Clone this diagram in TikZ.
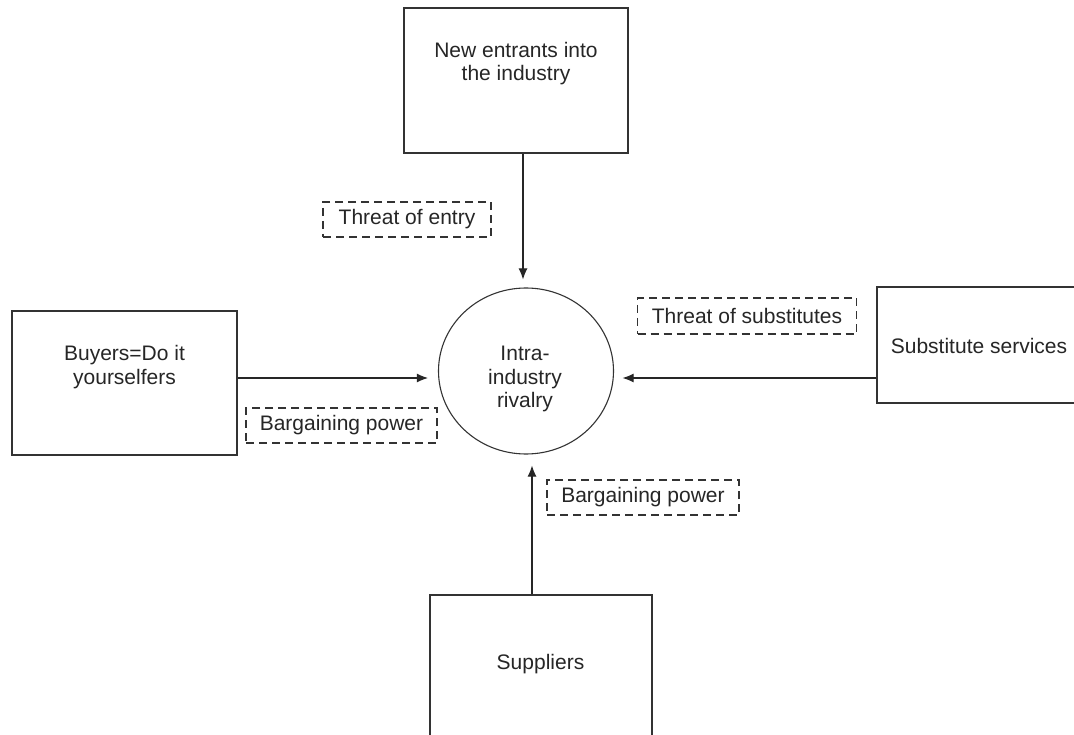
\documentclass[tikz,border=0pt]{standalone}
\usepackage{fontspec}
\setmainfont{Liberation Sans}
\usetikzlibrary{arrows.meta,shapes.geometric}
\begin{document}
\begin{tikzpicture}[x=1pt,y=-1pt,
  txt/.style={font=\fontsize{21}{23.5}\selectfont, text=black!85, inner sep=0pt, align=center},
  box/.style={draw=black!80, line width=1.4pt, inner sep=0pt, rectangle},
  lbl/.style={draw=black!80, dash pattern=on 8pt off 5pt, line width=1.2pt, inner sep=0pt,
     font=\fontsize{21}{23.5}\selectfont, text=black!85},
  arr/.style={draw=black!85, line width=1.1pt, -{Latex[length=11pt,width=9pt]}}
]
\useasboundingbox (0,0) rectangle (1074,735);
\clip (0,0) rectangle (1074,735);
\fill[white] (0,0) rectangle (1074,735);

% boxes
\node[box, minimum width=224pt, minimum height=145pt] (new) at (516,80.5) {};
\node[box, minimum width=225pt, minimum height=144pt] (buy) at (124.5,383) {};
\node[box, minimum width=223pt, minimum height=116pt] (sub) at (988.5,345) {};
\node[box, minimum width=222pt, minimum height=165pt] (sup) at (541,677.5) {};
\node[ellipse, draw=black!80, line width=1.1pt, minimum width=175pt, minimum height=166pt, inner sep=0pt] (riv) at (526,371) {};

% texts
\node[txt] (newt) at (516,63.6) {New entrants into\\the industry};
\node[txt] (buyt) at (124.5,367) {Buyers=Do it\\yourselfers};
\node[txt, anchor=base] (subt) at (979,354) {Substitute services};
\node[txt, anchor=base] (supt) at (540.5,669) {Suppliers};
\node[txt] (rivt) at (525,379.4) {Intra-\\industry\\rivalry};

% dashed labels
\node[lbl, minimum width=168pt, minimum height=35pt] (entry) at (407,219.5) {Threat of entry};
\node[lbl, minimum width=219pt, minimum height=36pt] (subs) at (747,316) {Threat of substitutes};
\node[lbl, minimum width=191pt, minimum height=35pt] (bp1) at (341.5,425.5) {Bargaining power};
\node[lbl, minimum width=192pt, minimum height=35pt] (bp2) at (643,497.5) {Bargaining power};

% arrows
\draw[arr] ([xshift=7pt]new.south) -- ([xshift=-3pt,yshift=8pt]riv.north);
\draw[arr] ([yshift=5pt]buy.east) -- ([xshift=-10pt,yshift=-7pt]riv.west);
\draw[arr] ([yshift=-33pt]sub.west) -- ([xshift=8.5pt,yshift=-7pt]riv.east);
\draw[arr] ([xshift=-9pt]sup.north) -- ([xshift=6pt,yshift=-11pt]riv.south);
\end{tikzpicture}
\end{document}
